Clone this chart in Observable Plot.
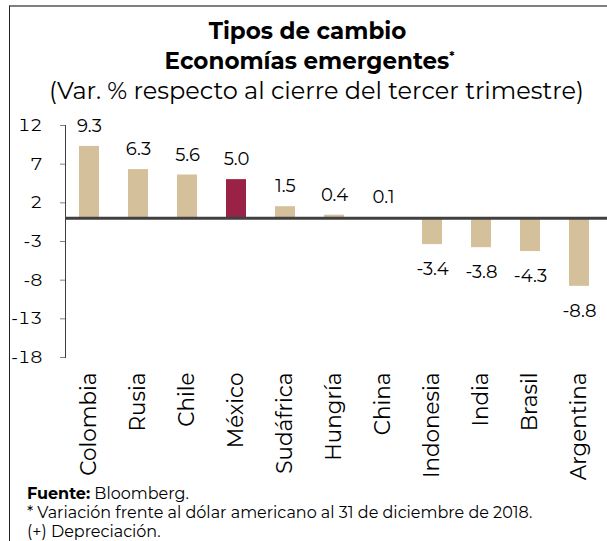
<!DOCTYPE html>
<html><head><meta charset="utf-8">
<script src="https://cdn.jsdelivr.net/npm/d3@7"></script>
<script src="https://cdn.jsdelivr.net/npm/@observablehq/plot@0.6"></script>
<style>
body{margin:0;background:#fff;font-family:Montserrat,"DejaVu Sans",sans-serif;color:#000;}
#wrap{position:relative;width:607px;height:541px;overflow:hidden;background:#fff;}
#frame{position:absolute;left:9px;top:5px;width:610px;height:560px;border-top:2px solid #7f7f7f;border-left:1.5px solid #222;}
.tl{position:absolute;width:607px;text-align:center;white-space:nowrap;}
.t1{left:4px;top:16px;font-size:23px;font-weight:bold;line-height:30px;}
.t2{left:6px;top:46px;font-size:23px;font-weight:bold;line-height:30px;}
.t2 sup{font-size:12px;vertical-align:top;position:relative;top:-4px;}
.sub{left:13px;top:76px;font-size:24px;line-height:30px;}
#chart{position:absolute;left:0;top:105px;}
.foot{position:absolute;left:27px;top:484px;font-size:16px;line-height:19px;white-space:nowrap;}
</style></head><body>
<div id="wrap">
<div id="frame"></div>
<div class="tl t1">Tipos de cambio</div>
<div class="tl t2">Economías emergentes<sup>*</sup></div>
<div class="tl sub">(Var. % respecto al cierre del tercer trimestre)</div>
<div id="chart"></div>
<div class="foot"><b>Fuente:</b> Bloomberg.<br>* Variación frente al dólar americano al 31 de diciembre de 2018.<br>(+) Depreciación.</div>
</div>
<script>
const paises = ["Colombia","Rusia","Chile","México","Sudáfrica","Hungría","China","Indonesia","India","Brasil","Argentina"];
const variacion = [9.3, 6.3, 5.6, 5.0, 1.5, 0.4, 0.1, -3.4, -3.8, -4.3, -8.8];
const destacado = "México";
const yTicks = [12, 7, 2, -3, -8, -13, -18];

const data = paises.map((p, i) => ({pais: p, valor: variacion[i]}));
const font = 'Montserrat, "DejaVu Sans", sans-serif';

const chart = Plot.plot({
  width: 607, height: 375,
  marginLeft: 65, marginRight: 4, marginTop: 20, marginBottom: 123,
  style: {fontFamily: font, fontSize: "17px", color: "#000", background: "transparent", overflow: "visible"},
  x: {domain: paises, paddingInner: 0.6, paddingOuter: 0.285, label: null},
  y: {domain: [-18, 12], label: null},
  marks: [
    Plot.barY(data.filter(d => d.pais !== destacado), {x: "pais", y: "valor", fill: "#d4c19c"}),
    Plot.barY(data.filter(d => d.pais === destacado), {x: "pais", y: "valor", fill: "#9b2247"}),
    Plot.ruleY([0], {stroke: "#404040", strokeWidth: 3, insetRight: -4}),
    Plot.frame({anchor: "left", stroke: "#404040"}),
    Plot.axisY({ticks: yTicks, tickSize: 5, tickPadding: 18, tickFormat: d => String(d), fontSize: 17.5, stroke: "#808080", fill: "#000", label: null}),
    Plot.axisX({tickSize: 0, tickRotate: -90, tickPadding: 15, fontSize: 21.5, fill: "#000", label: null}),
    Plot.text(data.filter(d => d.valor >= 0), {x: "pais", y: "valor", text: d => d.valor.toFixed(1), dy: -20, fontSize: 18, fill: "#000"}),
    Plot.text(data.filter(d => d.valor < 0), {x: "pais", y: "valor", text: d => d.valor.toFixed(1), dy: 25, fontSize: 18, fill: "#000"})
  ]
});
document.getElementById("chart").appendChild(chart);
</script>
</body></html>
